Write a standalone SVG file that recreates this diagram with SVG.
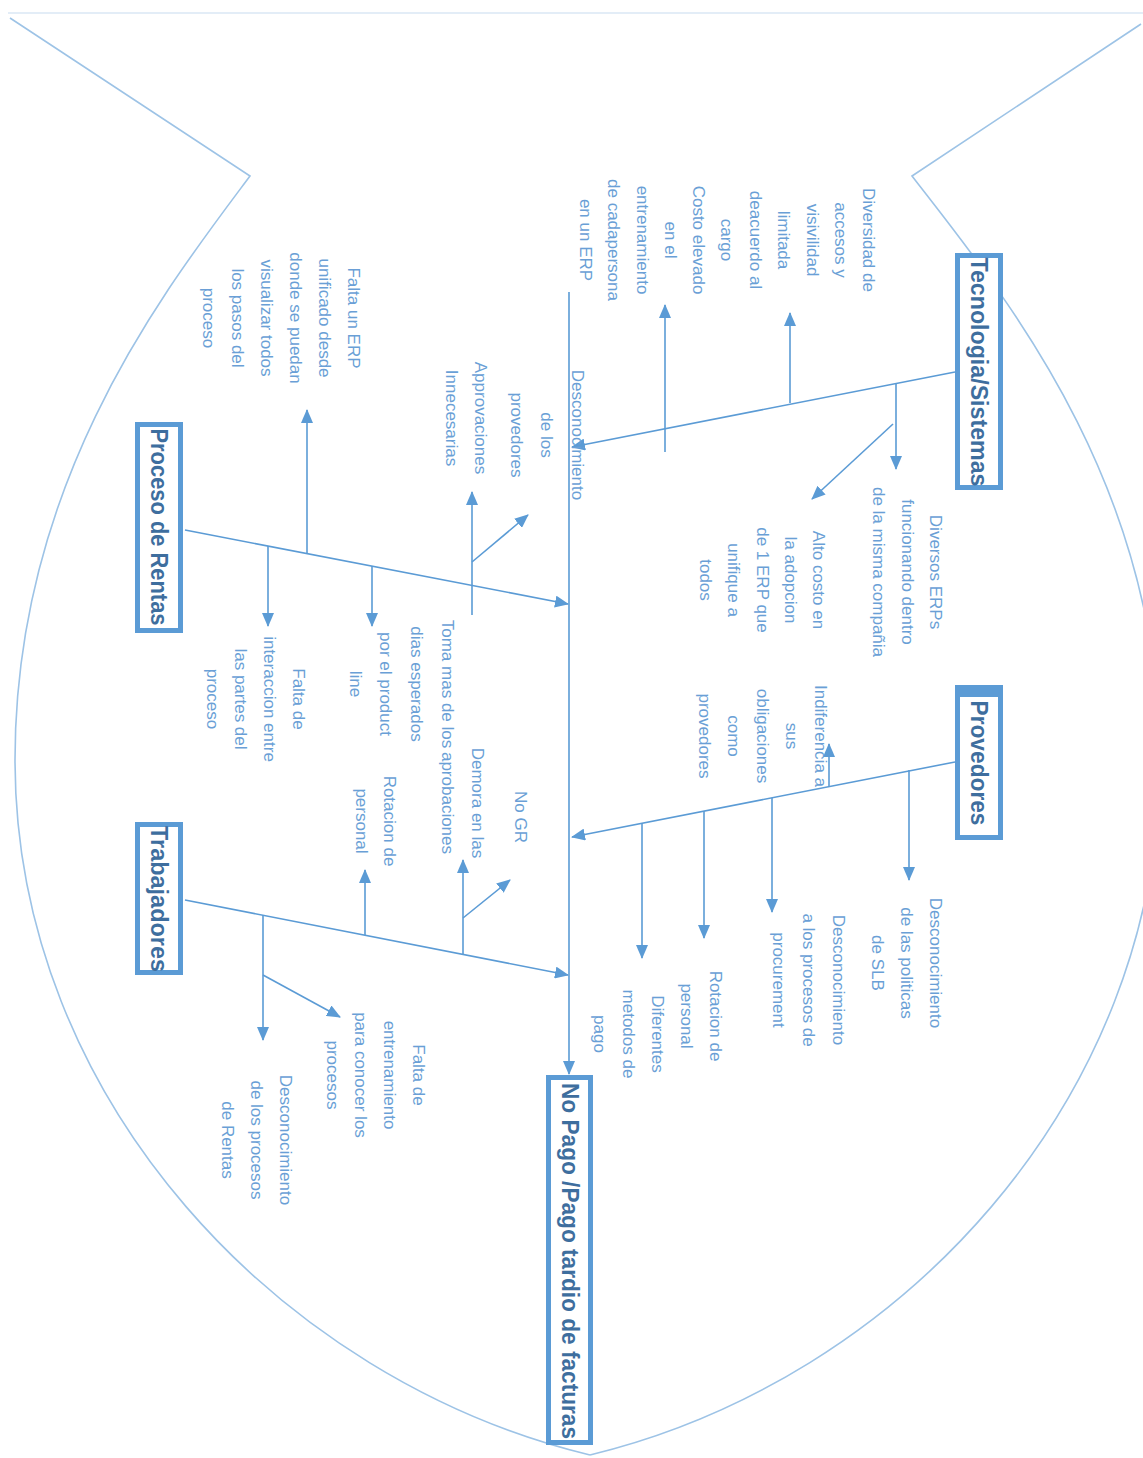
<svg xmlns="http://www.w3.org/2000/svg" width="1143" height="1458" viewBox="0 0 1143 1458">
<defs>
<style>
.out{fill:none;stroke:#9dc3e6;stroke-width:1.6}
.ln{fill:none;stroke:#5b9bd5;stroke-width:1.6}
.ar{fill:none;stroke:#5b9bd5;stroke-width:1.6;marker-end:url(#ah)}
.box{fill:#ffffff;stroke:#5b9bd5;stroke-width:5}
.lb{font-family:"Liberation Sans",Arial,sans-serif;font-size:17px;fill:#6a9fd6;text-anchor:middle}
.bt{font-family:"Liberation Sans",Arial,sans-serif;font-size:24px;font-weight:bold;fill:#3e6e9e;text-anchor:middle}
</style>
<marker id="ah" markerUnits="userSpaceOnUse" markerWidth="14" markerHeight="12" refX="13" refY="6" orient="auto"><path d="M0,0 L14,6 L0,12 Z" fill="#5b9bd5"/></marker>
</defs>
<rect width="1143" height="1458" fill="#ffffff"/>
<g id="outline">
<line x1="8" y1="13" x2="1143" y2="13" stroke="#e3edf7" stroke-width="2"/>
<path class="out" d="M10,18 L250,176 C165,290 15,480 15,760 C15,1100 280,1380 590,1455"/>
<path class="out" d="M1141,24 L912,176 C1000,290 1160,480 1160,760 C1160,1100 900,1380 590,1455"/>
</g>
<g id="connectors">
<path class="ar" d="M569,292 L569,1074"/>
<path class="ar" d="M955,372 L572,447"/>
<path class="ar" d="M955,762 L572,837"/>
<path class="ar" d="M185,530 L568,604"/>
<path class="ar" d="M185,900 L568,975"/>
<path class="ar" d="M790,403 L790,313"/>
<path class="ar" d="M665,452 L665,305"/>
<path class="ar" d="M896,384 L896,469"/>
<path class="ar" d="M893,424 L812,499"/>
<path class="ar" d="M909,770 L909,880"/>
<path class="ar" d="M829,787 L829,744"/>
<path class="ar" d="M772,798 L772,912"/>
<path class="ar" d="M704,811 L704,938"/>
<path class="ar" d="M642,823 L642,958"/>
<path class="ar" d="M307,554 L307,410"/>
<path class="ar" d="M372,566 L372,626"/>
<path class="ar" d="M268,546 L268,626"/>
<path class="ar" d="M472,615 L472,492"/>
<path class="ar" d="M472,562 L528,515"/>
<path class="ar" d="M463,955 L463,860"/>
<path class="ar" d="M463,918 L510,880"/>
<path class="ar" d="M365,935 L365,870"/>
<path class="ar" d="M263,915 L263,1040"/>
<path class="ar" d="M263,975 L340,1017"/>
</g>
<g id="box-tecnologia">
<rect class="box" x="957.5" y="255.5" width="43" height="232"/>
<text class="bt" transform="rotate(90)" x="372" y="-970.5" textLength="229" lengthAdjust="spacingAndGlyphs">Tecnologia/Sistemas</text>
</g>
<g id="box-provedores">
<rect class="box" x="957.5" y="687.5" width="43" height="150"/>
<rect x="955" y="685" width="48" height="12" fill="#5b9bd5"/>
<text class="bt" transform="rotate(90)" x="763" y="-970.5" textLength="125" lengthAdjust="spacingAndGlyphs">Provedores</text>
</g>
<g id="box-proceso">
<rect class="box" x="137.5" y="424.5" width="43" height="206"/>
<text class="bt" transform="rotate(90)" x="527" y="-150.5" textLength="197" lengthAdjust="spacingAndGlyphs">Proceso de Rentas</text>
</g>
<g id="box-trabajadores">
<rect class="box" x="137.5" y="824.5" width="43" height="148"/>
<text class="bt" transform="rotate(90)" x="899" y="-150.5" textLength="146" lengthAdjust="spacingAndGlyphs">Trabajadores</text>
</g>
<g id="box-nopago">
<rect class="box" x="548.5" y="1077.5" width="42" height="365"/>
<text class="bt" transform="rotate(90)" x="1261" y="-561.5" textLength="356" lengthAdjust="spacingAndGlyphs">No Pago /Pago tardio de facturas</text>
</g>
<g id="lbl-diversidad" transform="rotate(90)">
<text class="lb" x="240" y="-863">Diversidad de</text>
<text class="lb" x="240" y="-835">accesos y</text>
<text class="lb" x="240" y="-807">visivilidad</text>
<text class="lb" x="240" y="-778">limitada</text>
<text class="lb" x="240" y="-750">deacuerdo al</text>
<text class="lb" x="240" y="-721">cargo</text>
</g>
<g id="lbl-costo" transform="rotate(90)">
<text class="lb" x="240" y="-693">Costo elevado</text>
<text class="lb" x="240" y="-665">en el</text>
<text class="lb" x="240" y="-637">entrenamiento</text>
<text class="lb" x="240" y="-608">de cadapersona</text>
<text class="lb" x="240" y="-580">en un ERP</text>
</g>
<g id="lbl-diversos" transform="rotate(90)">
<text class="lb" x="572" y="-930">Diversos ERPs</text>
<text class="lb" x="572" y="-902">funcionando dentro</text>
<text class="lb" x="572" y="-873">de la misma compañia</text>
</g>
<g id="lbl-alto" transform="rotate(90)">
<text class="lb" x="580" y="-813">Alto costo en</text>
<text class="lb" x="580" y="-785">la adopcion</text>
<text class="lb" x="580" y="-757">de 1 ERP que</text>
<text class="lb" x="580" y="-728">unifique a</text>
<text class="lb" x="580" y="-700">todos</text>
</g>
<g id="lbl-desc-prov" transform="rotate(90)">
<text class="lb" x="435" y="-572">Desconocimiento</text>
<text class="lb" x="435" y="-541">de los</text>
<text class="lb" x="435" y="-511">provedores</text>
</g>
<g id="lbl-approv" transform="rotate(90)">
<text class="lb" x="418" y="-475">Approvaciones</text>
<text class="lb" x="418" y="-446">Innecesarias</text>
</g>
<g id="lbl-falta-erp" transform="rotate(90)">
<text class="lb" x="318" y="-348">Falta un ERP</text>
<text class="lb" x="318" y="-319">unificado desde</text>
<text class="lb" x="318" y="-290">donde se puedan</text>
<text class="lb" x="318" y="-261">visualizar todos</text>
<text class="lb" x="318" y="-232">los pasos del</text>
<text class="lb" x="318" y="-203">proceso</text>
</g>
<g id="lbl-toma" transform="rotate(90)">
<text class="lb" x="684" y="-442">Toma mas de los</text>
<text class="lb" x="684" y="-411">dias esperados</text>
<text class="lb" x="684" y="-380">por el product</text>
<text class="lb" x="684" y="-350">line</text>
</g>
<g id="lbl-demora" transform="rotate(90)">
<text class="lb" x="803" y="-472">Demora en las</text>
<text class="lb" x="803" y="-442">aprobaciones</text>
</g>
<g id="lbl-rotacion1" transform="rotate(90)">
<text class="lb" x="821" y="-384">Rotacion de</text>
<text class="lb" x="821" y="-356">personal</text>
</g>
<g id="lbl-interaccion" transform="rotate(90)">
<text class="lb" x="699" y="-293">Falta de</text>
<text class="lb" x="699" y="-264">interaccion entre</text>
<text class="lb" x="699" y="-235">las partes del</text>
<text class="lb" x="699" y="-207">proceso</text>
</g>
<g id="lbl-nogr" transform="rotate(90)">
<text class="lb" x="817" y="-515">No GR</text>
</g>
<g id="lbl-indiferencia" transform="rotate(90)">
<text class="lb" x="736" y="-815">Indiferencia a</text>
<text class="lb" x="736" y="-786">sus</text>
<text class="lb" x="736" y="-757">obligaciones</text>
<text class="lb" x="736" y="-728">como</text>
<text class="lb" x="736" y="-699">provedores</text>
</g>
<g id="lbl-politicas" transform="rotate(90)">
<text class="lb" x="963" y="-930">Desconocimiento</text>
<text class="lb" x="963" y="-901">de las politicas</text>
<text class="lb" x="963" y="-872">de SLB</text>
</g>
<g id="lbl-procurement" transform="rotate(90)">
<text class="lb" x="980" y="-833">Desconocimiento</text>
<text class="lb" x="980" y="-803">a los procesos de</text>
<text class="lb" x="980" y="-773">procurement</text>
</g>
<g id="lbl-rotacion2" transform="rotate(90)">
<text class="lb" x="1016" y="-710">Rotacion de</text>
<text class="lb" x="1016" y="-681">personal</text>
</g>
<g id="lbl-metodos" transform="rotate(90)">
<text class="lb" x="1034" y="-652">Diferentes</text>
<text class="lb" x="1034" y="-623">metodos de</text>
<text class="lb" x="1034" y="-594">pago</text>
</g>
<g id="lbl-entrenamiento" transform="rotate(90)">
<text class="lb" x="1075" y="-413">Falta de</text>
<text class="lb" x="1075" y="-384">entrenamiento</text>
<text class="lb" x="1075" y="-355">para conocer los</text>
<text class="lb" x="1075" y="-327">procesos</text>
</g>
<g id="lbl-desc-rentas" transform="rotate(90)">
<text class="lb" x="1140" y="-280">Desconocimiento</text>
<text class="lb" x="1140" y="-251">de los procesos</text>
<text class="lb" x="1140" y="-222">de Rentas</text>
</g>
</svg>
